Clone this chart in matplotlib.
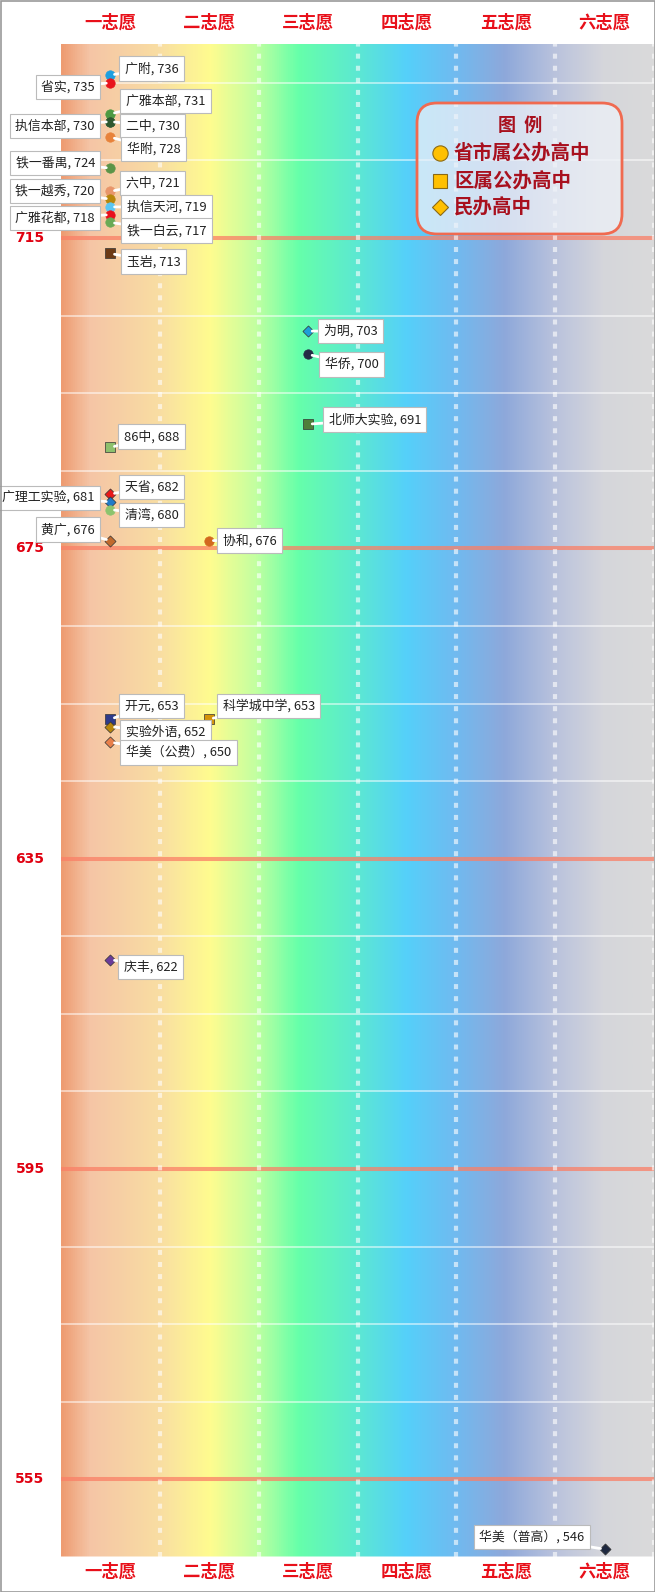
import numpy as np
import matplotlib
matplotlib.use("Agg")
import matplotlib.pyplot as plt
from matplotlib.colors import LinearSegmentedColormap
from matplotlib.transforms import Affine2D, blended_transform_factory
from matplotlib.patches import FancyBboxPatch, Rectangle
from matplotlib.lines import Line2D

plt.rcParams['font.family'] = ['Noto Sans CJK SC', 'DejaVu Sans']

# ---------------- data ----------------
categories = ["一志愿", "二志愿", "三志愿", "四志愿", "五志愿", "六志愿"]
legend_types = ["省市属公办高中", "区属公办高中", "民办高中"]

names = ["广附", "省实", "广雅本部", "执信本部", "二中", "华附", "铁一番禺", "六中",
         "铁一越秀", "执信天河", "广雅花都", "铁一白云", "玉岩", "为明", "华侨",
         "北师大实验", "86中", "天省", "广理工实验", "清湾", "黄广", "协和", "开元",
         "实验外语", "华美（公费）", "科学城中学", "庆丰", "华美（普高）"]
scores = [736, 735, 731, 730, 730, 728, 724, 721,
          720, 719, 718, 717, 713, 703, 700,
          691, 688, 682, 681, 680, 676, 676, 653,
          652, 650, 653, 622, 546]
choice = [0, 0, 0, 0, 0, 0, 0, 0,
          0, 0, 0, 0, 0, 2, 2,
          2, 0, 0, 0, 0, 0, 1, 0,
          0, 0, 1, 0, 5]
# 0 = 省市属公办, 1 = 区属公办, 2 = 民办
school_type = [0, 0, 0, 0, 0, 0, 0, 0,
               0, 0, 0, 0, 1, 2, 0,
               1, 1, 2, 2, 0, 2, 0, 1,
               2, 2, 1, 2, 2]

# ---------------- styles ----------------
colors = ["#1E9FE0", "#E8141C", "#4E9A42", "#3E6B3A", "#2E5830", "#E8823A", "#5B9448", "#E8956A",
          "#B8860B", "#5CC6F2", "#E8101C", "#6AAA55", "#6B3A16", "#1E9FD8", "#252A45",
          "#4F7F3A", "#8DC06D", "#E81818", "#1F7AC8", "#8CC46E", "#C06A2E", "#D2691E", "#2E3A8A",
          "#B8860B", "#E8804A", "#D4930A", "#6A3C9A", "#1E2840"]
# label placement: (side, dx px, dy px downward)
label_pos = [("R", 9, -6.5), ("L", -10, 4), ("R", 10, -12.7), ("L", -10, 4.5), ("R", 10, 4.5),
             ("R", 11, 12), ("L", -10, -5.5), ("R", 10, -8.7), ("L", -10, -8), ("R", 11, 0),
             ("L", -10, 3), ("R", 11, 8), ("R", 11, 8), ("R", 10, 0), ("R", 11, 10),
             ("R", 15, -4.7), ("R", 8, -11), ("R", 9, -7), ("L", -10, -3.7), ("R", 9, 5.5),
             ("L", -10, -11), ("R", 8, 0), ("R", 9, -13), ("R", 10, 5), ("R", 10, 10),
             ("R", 8, -13), ("R", 8, 7.5), ("L", -15, -12)]
marker_of = {0: "o", 1: "s", 2: "D"}
msize = {0: 46, 1: 42, 2: 32}

W, H = 655, 1592
fig = plt.figure(figsize=(W / 100, H / 100), dpi=100)
fig.patch.set_facecolor("white")
L, R, T, B = 61, 654, 44, 1557
ax = fig.add_axes([L / W, (H - B) / H, (R - L) / W, (B - T) / H])
ax.set_xlim(-0.5, 5.5)
ax.set_ylim(545, 740)
for s in ax.spines.values():
    s.set_visible(False)
ax.set_xticks([])
ax.set_yticks([])

pxT = Affine2D().scale(1 / W, 1 / H) + fig.transFigure


def py(y):
    return H - y


# background gradient
stops = [(-0.5, '#EE9C72'), (-0.22, '#F5C5A6'), (0.5, '#F9DEA2'), (1.0, '#FFFC8F'),
         (1.45, '#C5FFA0'), (1.9, '#66FFAA'), (2.5, '#5CE8D2'), (3.0, '#55D0FA'),
         (3.5, '#70BAF0'), (4.0, '#8EA8DA'), (4.5, '#B9C2DD'), (5.0, '#D5D6DB'), (5.5, '#DADADA')]
cmap = LinearSegmentedColormap.from_list("bg", [((x + 0.5) / 6, c) for x, c in stops])
ax.imshow(np.linspace(0, 1, 800)[None, :], extent=[-0.5, 5.5, 545, 740], aspect='auto',
          cmap=cmap, zorder=0, interpolation='bilinear')

# grid
red_levels = [715, 675, 635, 595, 555]
for v in range(545, 740, 10):
    if v in red_levels:
        continue
    ax.axhline(v, color='white', lw=1.2, alpha=0.6, zorder=1)
for v in red_levels:
    ax.axhline(v, color='#FA7F66', lw=2.9, alpha=0.75, zorder=2)
for xv in np.arange(0.5, 5.6, 1.0):
    ax.axvline(xv, color='white', lw=3, alpha=0.6, dashes=(1.2, 1.7), zorder=3)

# y labels
yT = blended_transform_factory(pxT, ax.transData)
for v in red_levels:
    ax.text(30, v, str(v), transform=yT, ha='center', va='center', color='#E00010',
            fontsize=10, fontweight='bold', family='DejaVu Sans', clip_on=False)

# category labels
cT = blended_transform_factory(ax.transData, pxT)
for i, c in enumerate(categories):
    for yy in (23, 1572):
        ax.text(i, py(yy), c, transform=cT, ha='center', va='center', color='#E8101A',
                fontsize=12.5, fontweight='bold', clip_on=False)

# markers
for n, s, c, t, col in zip(names, scores, choice, school_type, colors):
    ax.scatter([c], [s], marker=marker_of[t], s=msize[t], color=col,
               edgecolor='#333333' if t != 0 else col, linewidth=0.5, zorder=5)

# labels
fs = 9.3
padf = 0.42
pad_px = padf * fs * 100 / 72
for n, s, c, (side, dx, dy) in zip(names, scores, choice, label_pos):
    tx = dx + pad_px if side == "R" else dx - pad_px
    ax.annotate(f"{n}, {s}", xy=(c, s), xytext=(tx, -dy), textcoords='offset pixels',
                ha='left' if side == "R" else 'right', va='center', fontsize=fs, color='#222222',
                bbox=dict(boxstyle=f'square,pad={padf}', fc='white', ec='#BBBBBB', lw=0.8),
                arrowprops=dict(arrowstyle='-', color='white', lw=2, shrinkA=0, shrinkB=3),
                zorder=6)

# legend
box = FancyBboxPatch((417, py(234)), 205, 131, boxstyle='round,pad=0,rounding_size=20',
                     transform=pxT, fc='#EEF2F8', alpha=0.75, ec='none', zorder=7)
fig.add_artist(box)
box2 = FancyBboxPatch((417, py(234)), 205, 131, boxstyle='round,pad=0,rounding_size=20',
                      transform=pxT, fc='none', ec='#F06A50', lw=2, zorder=8)
fig.add_artist(box2)
fig.text(520 / W, py(125) / H, "图  例", ha='center', va='center', fontsize=13,
         fontweight='bold', color='#A8101E', zorder=9)
leg_y = [153, 181, 207]
leg_m = ["o", "s", "D"]
leg_ms = [11, 10, 8.5]
for yy, m, ms, lab in zip(leg_y, leg_m, leg_ms, legend_types):
    fig.add_artist(Line2D([440 / W], [py(yy) / H], marker=m, markersize=ms, color='#FFC000',
                          markeredgecolor='#8B6914', markeredgewidth=0.8, linestyle='none',
                          zorder=9))
    fig.text(454 / W, py(yy) / H, lab, ha='left', va='center', fontsize=14, fontweight='bold',
             color='#A8101E', zorder=9)

# figure border
fig.add_artist(Rectangle((0.5, 0.5), W - 1, H - 1, transform=pxT, fill=False,
                         ec='#999999', lw=1.2, zorder=10))

fig.savefig("out.png", dpi=100, facecolor='white')
